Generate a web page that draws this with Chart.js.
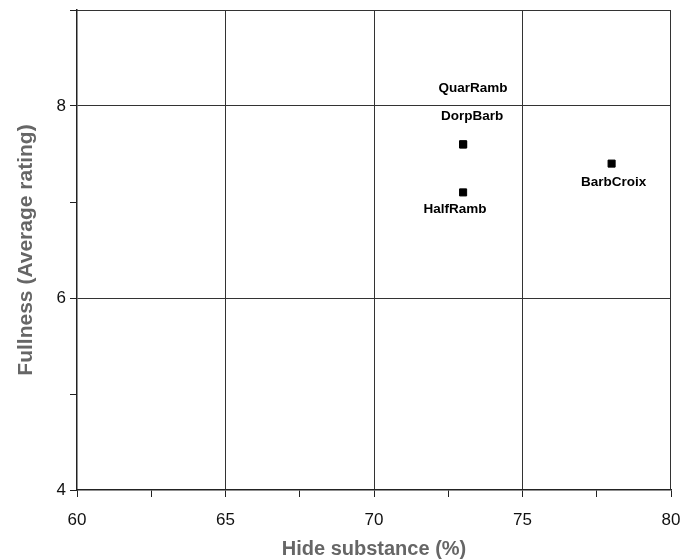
<!DOCTYPE html>
<html><head><meta charset="utf-8">
<script src="https://cdn.jsdelivr.net/npm/chart.js@4"></script>
<style>html,body{margin:0;padding:0;background:#fff}#wrap{width:698px;height:559px}</style>
</head><body><div id="wrap"><canvas id="c" width="698" height="559"></canvas></div>
<script>
const breeds = ["QuarRamb", "DorpBarb", "HalfRamb", "BarbCroix"];
const hideSubstance = [73, 73, 73, 78];
const fullness = [7.6, 7.6, 7.1, 7.4];
const xTickLabels = [60, 65, 70, 75, 80];
const yTickLabels = [4, 6, 8];

// label placement (style only): dx, dy in pixels relative to point
const labelOffsets = {QuarRamb:[10,-56], DorpBarb:[9,-28], HalfRamb:[-8,17], BarbCroix:[2,19]};

const labelPlugin = {
  id: 'pointLabels',
  afterDatasetsDraw(chart) {
    const ctx = chart.ctx;
    const meta = chart.getDatasetMeta(0);
    ctx.save();
    ctx.font = 'bold 13.5px "Liberation Sans", Arial, sans-serif';
    ctx.fillStyle = '#000';
    ctx.textAlign = 'center';
    ctx.textBaseline = 'middle';
    meta.data.forEach((el, i) => {
      const name = breeds[i];
      const o = labelOffsets[name];
      ctx.fillText(name, el.x + o[0], el.y + o[1]);
    });
    ctx.restore();
  }
};

new Chart(document.getElementById('c'), {
  type: 'scatter',
  data: {
    datasets: [{
      data: breeds.map((b, i) => ({x: hideSubstance[i], y: fullness[i]})),
      backgroundColor: '#000',
      borderColor: '#000',
      pointStyle: 'rect',
      pointRadius: 5,
      pointHoverRadius: 5
    }]
  },
  options: {
    responsive: false,
    animation: false,
    events: [],
    layout: {padding: {left: 10, right: 27, top: 10, bottom: 0}},
    plugins: {legend: {display: false}, tooltip: {enabled: false}},
    scales: {
      x: {
        type: 'linear', min: 60, max: 80,
        afterBuildTicks(s) { s.ticks = []; for (let v = 60; v <= 80; v += 2.5) s.ticks.push({value: v}); },
        afterFit(s) { s.height = 69; },
        ticks: {
          callback: v => xTickLabels.includes(v) ? String(v) : '',
          color: '#111', font: {size: 17, family: '"Liberation Sans", Arial, sans-serif'},
          padding: 13, maxRotation: 0, autoSkip: false
        },
        grid: {
          color: ctx => (ctx.tick && xTickLabels.includes(ctx.tick.value) && ctx.tick.value !== 60 && ctx.tick.value !== 80) ? '#333' : 'rgba(0,0,0,0)',
          tickColor: '#222', tickLength: 7, lineWidth: 1
        },
        border: {color: '#222', width: 1.5},
        title: {display: true, text: 'Hide substance (%)', color: '#666',
          font: {size: 20, weight: 'bold', family: '"Liberation Sans", Arial, sans-serif'}, padding: {top: 0, bottom: -2}}
      },
      y: {
        type: 'linear', min: 4, max: 9,
        afterBuildTicks(s) { s.ticks = []; for (let v = 4; v <= 9; v += 1) s.ticks.push({value: v}); },
        afterFit(s) { s.width = 67; s.paddingTop = 0; s.paddingBottom = 0; },
        ticks: {
          callback: v => yTickLabels.includes(v) ? String(v) : '',
          color: '#111', font: {size: 17, family: '"Liberation Sans", Arial, sans-serif'},
          padding: 4, autoSkip: false
        },
        grid: {
          color: ctx => (ctx.tick && (ctx.tick.value === 6 || ctx.tick.value === 8)) ? '#333' : 'rgba(0,0,0,0)',
          tickColor: '#222', tickLength: 7, lineWidth: 1
        },
        border: {color: '#222', width: 1.5},
        title: {display: true, text: 'Fullness (Average rating)', color: '#666',
          font: {size: 21, weight: 'bold', family: '"Liberation Sans", Arial, sans-serif'}, padding: {top: 4, bottom: 4}}
      }
    }
  },
  plugins: [labelPlugin, {
    id: 'frame',
    afterDraw(chart) {
      const {ctx, chartArea: a} = chart;
      ctx.save();
      ctx.strokeStyle = '#333'; ctx.lineWidth = 1;
      ctx.beginPath();
      ctx.moveTo(a.left, a.top + 0.5); ctx.lineTo(a.right, a.top + 0.5);
      ctx.moveTo(a.right - 0.5, a.top); ctx.lineTo(a.right - 0.5, a.bottom);
      ctx.stroke();
      ctx.restore();
    }
  }]
});
</script></body></html>
